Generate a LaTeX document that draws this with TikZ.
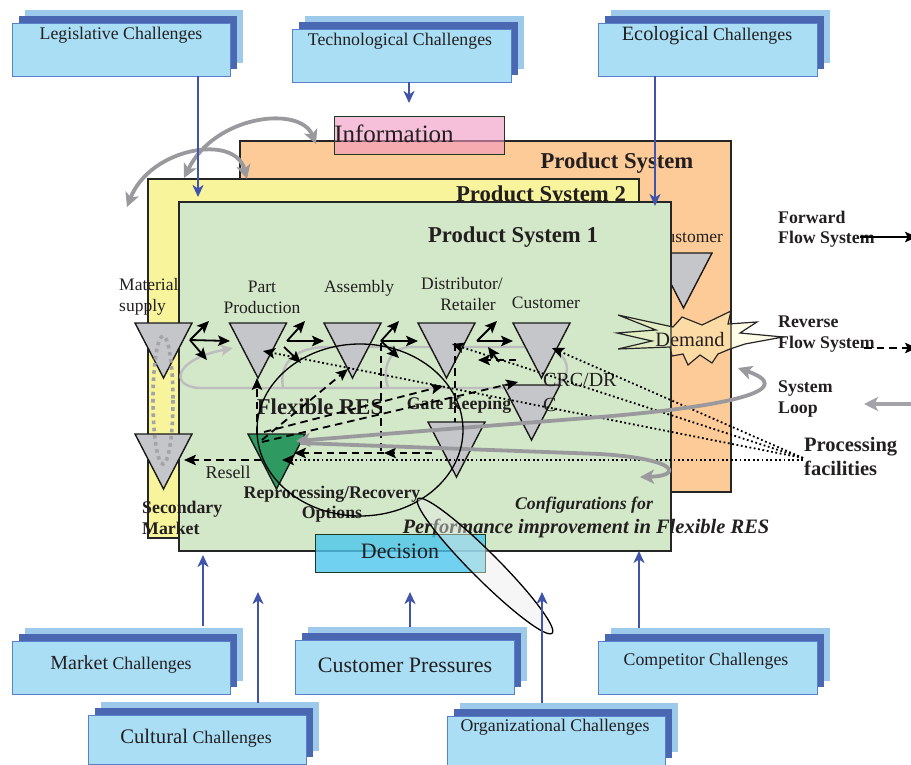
\documentclass[tikz,border=0pt]{standalone}
\usepackage{fontspec}
\setmainfont{Liberation Serif}
\usetikzlibrary{arrows.meta}
\definecolor{txt}{HTML}{231F20}
\definecolor{chfront}{HTML}{A9DEF5}
\definecolor{chmid}{HTML}{4A67B1}
\definecolor{chback}{HTML}{9DC9EB}
\definecolor{chborder}{HTML}{5A7FCB}
\definecolor{bluearrow}{HTML}{3F54AA}
\definecolor{psorange}{HTML}{FDCB97}
\definecolor{psyellow}{HTML}{F8F49B}
\definecolor{psgreen}{HTML}{D3E8C8}
\definecolor{trigray}{HTML}{C5C6C9}
\definecolor{trigreen}{HTML}{2E9A62}
\definecolor{infopink}{HTML}{F096C1}
\definecolor{decblue}{HTML}{4CC7EC}
\definecolor{boxedge}{HTML}{1E3A1E}
\definecolor{loopgray}{HTML}{9A9A9E}
\definecolor{lightloop}{HTML}{BDBDC0}
\definecolor{dotgray}{HTML}{A3A3A8}
\definecolor{demandfill}{HTML}{FFF9BE}
\definecolor{capfill}{HTML}{E8ECE8}

\tikzset{
  chfrontbox/.style={fill=chfront, draw=chborder, line width=1.2pt, inner sep=0pt},
  chtext/.style={font=\fontsize{17.8}{21}\selectfont, text=txt, inner sep=0pt},
  bluearr/.style={draw=bluearrow, line width=2.3pt, -{Stealth[length=12pt,width=11pt,inset=3.5pt]}},
  psbox/.style={draw=black!85, line width=1.3pt, anchor=north west, inner sep=0pt, outer sep=0pt},
  pstitle/.style={font=\bfseries\fontsize{22.7}{26}\selectfont, text=txt, inner sep=0pt},
  stage/.style={font=\fontsize{17.5}{21}\selectfont, text=txt, inner sep=0pt},
  boldlab/.style={font=\bfseries\fontsize{17.8}{20.5}\selectfont, text=txt, inner sep=0pt},
  tristyle/.style={draw=black!90, line width=1.4pt},
  fwarrow/.style={draw=black, line width=1.8pt, -{Stealth[length=12pt,width=10.5pt,inset=2.5pt]}},
  revarrow/.style={fwarrow, dash pattern=on 7.5pt off 5pt},
  revline/.style={draw=black, line width=1.8pt, dash pattern=on 7.5pt off 5pt},
  dotarrow/.style={fwarrow, dash pattern=on 1.8pt off 2.6pt},
  grayarc/.style={draw=loopgray, line width=3.8pt, {Stealth[length=14pt,width=14pt,inset=3.5pt]}-{Stealth[length=14pt,width=14pt,inset=3.5pt]}},
  grayone/.style={draw=loopgray, line width=3.8pt, -{Stealth[length=14pt,width=14pt,inset=3.5pt]}},
  lightlp/.style={draw=lightloop, line width=2.4pt},
}

\newcommand{\chal}[5]{%
  \fill[chback] (#2+13,#3-13) rectangle ++(#4,#5);
  \fill[chmid] (#2+7,#3-7) rectangle ++(#4,#5);
  \node[chfrontbox, minimum width=#4pt, minimum height=#5pt, anchor=north west] (#1) at (#2,#3) {};
}
\newcommand{\tri}[4]{%
  \draw[tristyle, fill=#4] (#2-28.5,#3) -- (#2+28.5,#3) -- (#2,#3+55) -- cycle;
  \coordinate (#1) at (#2,#3+20);
}

\begin{document}
\begin{tikzpicture}[x=1pt,y=-1pt]
\useasboundingbox (0,0) rectangle (911,765);

% ---------- top challenges
\chal{leg}{12}{23}{218}{53}
\node[chtext] (legt) at (121,35) {Legislative Challenges};
\chal{tech}{292}{29}{219}{53}
\node[chtext] (techt) at (400,41) {Technological Challenges};
\chal{eco}{598}{23}{219}{53}
\node[chtext] (ecot) at (707,36) {{\fontsize{20.3}{24}\selectfont Ecological} Challenges};

% ---------- product systems
\node[psbox, fill=psorange, minimum width=491pt, minimum height=351pt] (ps) at (240,141) {};
\node[pstitle] (pst) at (617,163) {Product System};
\node[stage] (cust0t) at (689,237) {Customer};
\tri{cust0}{683.5}{253}{trigray}
\node[draw=boxedge, line width=1.2pt, fill=infopink, fill opacity=0.6, minimum width=170pt, minimum height=38pt, anchor=north west, inner sep=0pt] (info) at (334,116) {};
\node[font=\fontsize{25}{28}\selectfont, text=txt, inner sep=0pt] (infot) at (394,134) {Information};

\node[psbox, fill=psyellow, minimum width=491pt, minimum height=359pt] (ps2) at (148,179) {};
\node[pstitle] (ps2t) at (541,196) {Product System 2};
\node[psbox, fill=psgreen, minimum width=492pt, minimum height=349pt] (ps1) at (179,202) {};
\node[pstitle] (ps1t) at (513,237) {Product System 1};

% ---------- demand burst
\draw[draw=black!85, line width=1.2pt, fill=demandfill, fill opacity=0.35]
 (618,315) -- (673,327) -- (682,317) -- (702,325) -- (731,311) -- (728,324) -- (757,322) -- (740,333) -- (783,337) -- (745,344) -- (730,349) -- (718,354) -- (712,363) -- (700,355) -- (688,365) -- (683,354) -- (672,356) -- (670,347) -- (618,349) -- (652,341) -- (617,333) -- (656,330) -- cycle;
\node[font=\fontsize{20.4}{24}\selectfont, text=txt, inner sep=0pt] (demt) at (690,340) {Demand};

% ---------- light gray loops (under triangles)
\coordinate (lpA) at (545,388);
\coordinate (lpAend) at (233,348);
\draw[lightlp, -{Stealth[length=12pt,width=11pt,inset=2.5pt]}] (lpA) -- (200,388) .. controls (170,387) and (172,360) .. (lpAend);
\draw[lightlp] (283,387) .. controls (279,366) and (292,348) .. (325,347) -- (395,347);
\draw[lightlp] (388,387) .. controls (382,370) and (388,348) .. (410,347) -- (540,347) .. controls (575,349) and (575,386) .. (545,388);

% ---------- triangles
\tri{ms}{163.5}{323}{trigray}
\tri{pp}{258}{323}{trigray}
\tri{as}{352.5}{323}{trigray}
\tri{dr}{446.5}{323}{trigray}
\tri{cu}{541.5}{323}{trigray}
\tri{sm}{163.5}{434}{trigray}
\tri{rp}{276.5}{434}{trigreen}
\tri{gk}{456.5}{422}{trigray}
\tri{crc}{531.5}{385}{trigray}

% gray dotted loop material supply <-> secondary market
\draw[draw=dotgray, line width=3.6pt, dash pattern=on 3.6pt off 3.6pt] (163,400) ellipse [x radius=10, y radius=64];

% ---------- labels
\node[stage, align=left, anchor=west] (mst) at (119,297) {Material\\supply};
\node[stage, align=center] (ppt) at (262,297) {Part\\Production};
\node[stage] (ast) at (359,288) {Assembly};
\node[stage, align=center] (drt) at (462,294) {Distributor/\\\hspace*{12pt}Retailer};
\node[stage] (cut) at (546,303) {Customer};
\node[font=\fontsize{20}{25}\selectfont, text=txt, inner sep=0pt, align=left, anchor=west] (crct) at (543,392) {CRC/DR\\C};
\node[font=\bfseries\fontsize{22.6}{26}\selectfont, text=txt, inner sep=0pt] (flext) at (320,407) {Flexible RES};
\node[boldlab] (gkt) at (459,405) {Gate Keeping};
\node[stage, font=\fontsize{18}{21}\selectfont] (rst) at (228,472) {Resell};
\node[boldlab, align=center] (rpt) at (332,504) {Reprocessing/Recovery\\Options};
\node[boldlab, align=left, anchor=west] (smt) at (142,518) {Secondary\\Market};
\node[font=\bfseries\itshape\fontsize{17.8}{21}\selectfont, text=txt, inner sep=0pt] (cfgt) at (584,505) {Configurations for};
\node[font=\bfseries\itshape\fontsize{20.5}{24}\selectfont, text=txt, inner sep=0pt] (perft) at (586,528) {Performance improvement in Flexible RES};

% ---------- forward flow arrows
\coordinate (ms-o) at (190,340); \coordinate (ms-u) at (209,321); \coordinate (ms-f) at (230,341); \coordinate (ms-d) at (207,360);
\coordinate (pp-o) at (287,341); \coordinate (pp-u) at (305,321); \coordinate (pp-f) at (324,341);
\coordinate (pp-d0) at (284,347); \coordinate (pp-d) at (301,363);
\coordinate (as-o) at (381,341); \coordinate (as-u) at (399,321); \coordinate (as-f) at (418,341); \coordinate (as-d) at (399,358);
\coordinate (dr-o) at (477,341); \coordinate (dr-u) at (497,321); \coordinate (dr-f) at (513,341);
\draw[fwarrow] (ms-o) -- (ms-u);
\draw[fwarrow] (ms-o) -- (ms-f);
\draw[fwarrow] (ms-o) -- (ms-d);
\draw[fwarrow] (pp-o) -- (pp-u);
\draw[fwarrow] (pp-o) -- (pp-f);
\draw[fwarrow] (pp-d0) -- (pp-d);
\draw[fwarrow] (as-o) -- (as-u);
\draw[fwarrow] (as-o) -- (as-f);
\draw[fwarrow] (as-o) -- (as-d);
\draw[fwarrow] (dr-o) -- (dr-u);
\draw[fwarrow] (dr-o) -- (dr-f);
\coordinate (cu-back0) at (499,362); \coordinate (cu-back1) at (488,347);
\draw[fwarrow] (cu-back0) -- (cu-back1);

% ---------- reverse flow (dashed)
\coordinate (rp-resell) at (261,460); \coordinate (sm-in) at (184,460);
\coordinate (rp-top) at (257,434); \coordinate (pp-in) at (257,378);
\coordinate (rp-a) at (262,440); \coordinate (as-in) at (348,369);
\coordinate (rp-b) at (264,432); \coordinate (dr-in) at (443,386);
\coordinate (rp-c) at (262,442); \coordinate (crc-in) at (518,382);
\coordinate (gk-out) at (432,453); \coordinate (gk-mid) at (384,453); \coordinate (rp-in) at (294,453);
\coordinate (as-v) at (381,343); \coordinate (as-vb) at (381,453);
\coordinate (dr-v) at (455,343); \coordinate (gk-top) at (455,422);
\coordinate (cu-out) at (516,360); \coordinate (dr-back) at (478,360);
\draw[revarrow] (rp-resell) -- (sm-in);
\draw[revarrow] (rp-top) -- (pp-in);
\draw[revarrow] (rp-a) -- (as-in);
\draw[revarrow] (rp-b) -- (dr-in);
\draw[revarrow] (rp-c) -- (crc-in);
\draw[revarrow] (gk-out) -- (gk-mid);
\draw[revarrow] (gk-mid) -- (rp-in);
\draw[revline] (as-v) -- (as-vb);
\draw[revline] (dr-v) -- (gk-top);
\draw[revarrow] (cu-out) -- (dr-back);

% ---------- processing facilities (dotted)
\coordinate (pf) at (803,458); \coordinate (pf2) at (803,460);
\coordinate (pp-dot) at (263,351); \coordinate (dr-dot) at (452,344);
\coordinate (cu-dot) at (552,348); \coordinate (rp-dot) at (282,460);
\draw[dotarrow] (pf) -- (pp-dot);
\draw[dotarrow] (pf) -- (dr-dot);
\draw[dotarrow] (pf) -- (cu-dot);
\draw[dotarrow] (pf2) -- (rp-dot);

% ---------- thick gray system loops
\coordinate (rp-loop) at (296,441); \coordinate (dem-loop) at (738,368);
\draw[grayarc] (rp-loop) -- (600,417) .. controls (745,405) and (795,388) .. (dem-loop);
\coordinate (rp-loop2) at (300,443); \coordinate (loop2end) at (640,477);
\draw[grayone] (rp-loop2) -- (600,454) .. controls (680,459) and (682,476) .. (loop2end);

% ---------- flexible RES ellipse
\draw[black, line width=1.3pt] (360,430) ellipse [x radius=103, y radius=86];

% ---------- top gray arcs
\coordinate (arcA1) at (184,178); \coordinate (arcA2) at (316,144);
\coordinate (arcB1) at (127,207); \coordinate (arcB2) at (247,179);
\draw[grayarc] (arcA1) .. controls (215,115) and (300,105) .. (arcA2);
\draw[grayarc] (arcB1) .. controls (150,148) and (235,133) .. (arcB2);

% ---------- decision and capsule
\node[draw=boxedge, line width=1.2pt, fill=decblue, fill opacity=0.8, text opacity=1, minimum width=170pt, minimum height=38pt, anchor=north west, inner sep=0pt] (dec) at (315,534) {};
\node[font=\fontsize{22}{26}\selectfont, text=txt, inner sep=0pt] (dect) at (400,551) {Decision};
\draw[black, line width=1.3pt, fill=capfill, fill opacity=0.45, rotate around={-45:(485,566)}] (485,566) ellipse [x radius=95, y radius=13.5];

% ---------- legend
\node[boldlab, align=left, anchor=west] (fwl) at (778,229) {Forward\\Flow System};
\node[boldlab, align=left, anchor=west] (rvl) at (778,334) {Reverse\\Flow System};
\node[boldlab, align=left, anchor=west] (sll) at (778,399) {System\\Loop};
\node[font=\bfseries\fontsize{20.5}{24}\selectfont, text=txt, inner sep=0pt, align=left, anchor=west] (pfl) at (804,456) {Processing\\facilities};
\coordinate (fw-s) at (860,237); \coordinate (fw-e) at (917,237);
\coordinate (rv-s) at (864,348); \coordinate (rv-e) at (917,348);
\coordinate (sl-s) at (930,404); \coordinate (sl-e) at (864,404);
\draw[fwarrow] (fw-s) -- (fw-e);
\draw[revarrow] (rv-s) -- (rv-e);
\draw[draw=dotgray, line width=4pt, -{Stealth[length=14pt,width=14pt,inset=3.5pt]}] (sl-s) -- (sl-e);

% ---------- bottom challenges
\chal{mkt}{12}{641}{218}{53}
\node[chtext] (mktt) at (121,664) {{\fontsize{20}{24}\selectfont Market} Challenges};
\chal{cpr}{295}{640}{219}{54}
\node[font=\fontsize{22}{26}\selectfont, text=txt, inner sep=0pt] (cprt) at (405,665) {Customer Pressures};
\chal{cmp}{598}{641}{219}{53}
\node[chtext] (cmpt) at (706,661) {Competitor Challenges};
\chal{cul}{88}{715}{218}{49}
\node[chtext] (cult) at (196,738) {{\fontsize{20.7}{24}\selectfont Cultural} Challenges};
\chal{org}{447}{716}{218}{49}
\node[chtext] (orgt) at (555,727) {Organizational Challenges};

% ---------- blue arrows
\coordinate (leg-o) at (198,76); \coordinate (leg-i) at (198,197);
\coordinate (tech-o) at (409,82); \coordinate (tech-i) at (409,103);
\coordinate (eco-o) at (655,76); \coordinate (eco-i) at (655,206);
\coordinate (mkt-o) at (203,626); \coordinate (mkt-i) at (203,555);
\coordinate (cul-o) at (258,703); \coordinate (cul-i) at (258,592);
\coordinate (cpr-o) at (410,627); \coordinate (cpr-i) at (410,592);
\coordinate (org-o) at (542,703); \coordinate (org-i) at (542,592);
\coordinate (cmp-o) at (639,628); \coordinate (cmp-i) at (639,551);
\draw[bluearr] (leg-o) -- (leg-i);
\draw[bluearr] (tech-o) -- (tech-i);
\draw[bluearr] (eco-o) -- (eco-i);
\draw[bluearr] (mkt-o) -- (mkt-i);
\draw[bluearr] (cul-o) -- (cul-i);
\draw[bluearr] (cpr-o) -- (cpr-i);
\draw[bluearr] (org-o) -- (org-i);
\draw[bluearr] (cmp-o) -- (cmp-i);
\end{tikzpicture}
\end{document}
